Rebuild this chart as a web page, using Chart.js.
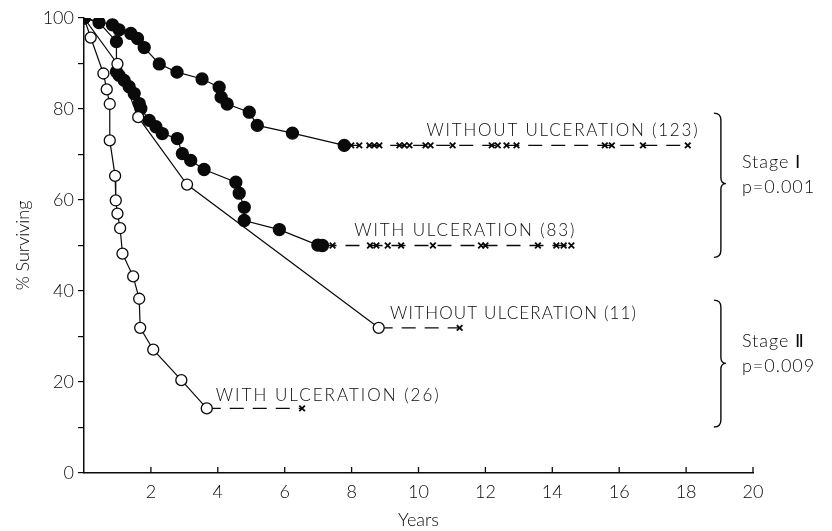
<!DOCTYPE html>
<html>
<head>
<meta charset="UTF-8">
<title>Survival by ulceration</title>
<script src="https://cdn.jsdelivr.net/npm/chart.js"></script>
<style>
  html, body { margin: 0; padding: 0; background: #fff; }
  #wrap { width: 832px; height: 531px; }
</style>
</head>
<body>
<div id="wrap"><canvas id="survChart"></canvas></div>
<script>
  // Stage I, without ulceration (123) - filled dots
  const s1NoUlcYears = [0, 0.85, 1.05, 1.40, 1.60, 1.80, 2.25, 2.78, 3.53, 4.04, 4.10, 4.28, 4.94, 5.18, 6.23, 7.78];
  const s1NoUlcPct   = [100, 98.5, 97.4, 96.6, 95.5, 93.5, 89.9, 88.1, 86.6, 84.8, 82.6, 81.1, 79.3, 76.4, 74.7, 72.0];
  const s1NoUlcCensored = [7.99, 8.23, 8.53, 8.68, 8.83, 9.43, 9.58, 9.73, 10.21, 10.36, 11.02, 12.19, 12.37, 12.63, 12.93, 15.57, 15.78, 16.71, 18.05];

  // Stage I, with ulceration (83) - filled dots
  const s1UlcYears = [0, 0.45, 0.97, 0.97, 1.05, 1.20, 1.35, 1.50, 1.65, 1.70, 1.95, 2.15, 2.34, 2.79, 2.94, 3.19, 3.59, 4.54, 4.64, 4.79, 4.79, 5.84, 6.99, 7.13];
  const s1UlcPct   = [100, 99.0, 94.8, 88.2, 87.4, 86.3, 84.9, 83.4, 81.2, 80.1, 77.5, 76.1, 74.6, 73.5, 70.2, 68.7, 66.7, 63.9, 61.5, 58.4, 55.5, 53.5, 50.1, 50.0];
  const s1UlcCensored = [7.43, 8.55, 8.74, 9.08, 9.48, 10.43, 11.87, 12.00, 13.57, 14.12, 14.34, 14.57];

  // Stage II, without ulceration (11) - open circles
  const s2NoUlcYears = [0, 1.00, 1.62, 3.08, 8.81];
  const s2NoUlcPct   = [100, 89.9, 78.2, 63.4, 31.9];
  const s2NoUlcCensored = [11.23];

  // Stage II, with ulceration (26) - open circles
  const s2UlcYears = [0, 0.20, 0.58, 0.68, 0.77, 0.77, 0.93, 0.95, 1.00, 1.08, 1.15, 1.47, 1.65, 1.68, 2.07, 2.91, 3.67];
  const s2UlcPct   = [100, 95.7, 87.8, 84.3, 81.1, 73.1, 65.3, 59.9, 57.0, 53.8, 48.2, 43.2, 38.3, 31.9, 27.1, 20.4, 14.2];
  const s2UlcCensored = [6.52];

  // curve labels (left edge in years, baseline in %)
  const curveLabels = [
    { text: "WITHOUT ULCERATION (123)", x: 10.24, y: 74.0, width: 271 },
    { text: "WITH ULCERATION (83)", x: 8.08, y: 52.0, width: 220 },
    { text: "WITHOUT ULCERATION (11)", x: 9.15, y: 33.8, width: 246 },
    { text: "WITH ULCERATION (26)", x: 3.94, y: 15.8, width: 223 }
  ];

  // braces on the right with stage text
  const braces = [
    { x: 19.04, top: 79.1, bottom: 47.4, tip: 63.6, line1: "Stage \u2160", line2: "p=0.001" },
    { x: 19.04, top: 38.0, bottom: 10.1, tip: 24.1, line1: "Stage \u2161", line2: "p=0.009" }
  ];

  const ink = "#0a0a0a";
  const fontFamily = "Lato, 'Open Sans', sans-serif";
  const fontWeight = 300;

  function pts(xs, ys) {
    return xs.map((x, i) => ({ x: x, y: ys[i] }));
  }
  function censPts(lastX, lastY, xs) {
    return [{ x: lastX, y: lastY }].concat(xs.map(x => ({ x: x, y: lastY })));
  }

  function solidSet(xs, ys, filled, hideFirst) {
    return {
      data: pts(xs, ys),
      borderColor: ink,
      borderWidth: 1.2,
      backgroundColor: filled ? ink : "#fff",
      pointBackgroundColor: filled ? ink : "#fff",
      pointBorderColor: ink,
      pointBorderWidth: 1.3,
      pointRadius: ctx => (hideFirst && ctx.dataIndex === 0) ? 0 : (filled ? 6 : 5.5),
      pointStyle: "circle",
      tension: 0,
      fill: false
    };
  }
  function censSet(xs, ys, cens) {
    return {
      data: censPts(xs[xs.length - 1], ys[ys.length - 1], cens),
      borderColor: ink,
      borderWidth: 1.3,
      borderDash: [14, 9],
      pointStyle: "crossRot",
      pointBorderColor: ink,
      pointBorderWidth: 1.8,
      pointRadius: ctx => ctx.dataIndex === 0 ? 0 : 4,
      fill: false
    };
  }

  // x-axis ticks point up into the plot
  const innerTicks = {
    id: "innerTicks",
    afterDraw(chart) {
      const { ctx, chartArea: a } = chart;
      const xs = chart.scales.x;
      ctx.save();
      ctx.strokeStyle = ink;
      ctx.lineWidth = 1.3;
      xs.ticks.forEach(t => {
        if (t.value === 0) return;
        const px = xs.getPixelForValue(t.value);
        ctx.beginPath();
        ctx.moveTo(px, a.bottom);
        ctx.lineTo(px, a.bottom - 6);
        ctx.stroke();
      });
      ctx.restore();
    }
  };

  // text labels and braces
  const annotations = {
    id: "annotations",
    afterDraw(chart) {
      const { ctx } = chart;
      const xs = chart.scales.x, ys = chart.scales.y;
      ctx.save();
      ctx.fillStyle = ink;
      ctx.textBaseline = "alphabetic";
      ctx.textAlign = "left";

      ctx.font = fontWeight + " 17px " + fontFamily;
      curveLabels.forEach(l => {
        ctx.letterSpacing = "0px";
        const w = ctx.measureText(l.text).width;
        const sp = (l.width - w) / (l.text.length - 1);
        ctx.letterSpacing = sp.toFixed(2) + "px";
        ctx.fillText(l.text, xs.getPixelForValue(l.x), ys.getPixelForValue(l.y));
      });

      braces.forEach(b => {
        const x = xs.getPixelForValue(b.x);
        const top = ys.getPixelForValue(b.top);
        const bot = ys.getPixelForValue(b.bottom);
        const tip = ys.getPixelForValue(b.tip);
        ctx.strokeStyle = ink;
        ctx.lineWidth = 1.4;
        ctx.beginPath();
        ctx.moveTo(x - 7, top);
        ctx.quadraticCurveTo(x, top, x, top + 7);
        ctx.lineTo(x, tip - 6);
        ctx.quadraticCurveTo(x, tip, x + 5, tip);
        ctx.quadraticCurveTo(x, tip, x, tip + 6);
        ctx.lineTo(x, bot - 7);
        ctx.quadraticCurveTo(x, bot, x - 7, bot);
        ctx.stroke();

        ctx.font = fontWeight + " 18px " + fontFamily;
        ctx.letterSpacing = "1px";
        ctx.fillText(b.line1, x + 21, tip - 16);
        ctx.fillText(b.line2, x + 21, tip + 9);
      });
      ctx.restore();
    }
  };

  new Chart(document.getElementById("survChart"), {
    type: "line",
    data: {
      datasets: [
        solidSet(s2UlcYears, s2UlcPct, false, true),
        censSet(s2UlcYears, s2UlcPct, s2UlcCensored),
        solidSet(s2NoUlcYears, s2NoUlcPct, false, true),
        censSet(s2NoUlcYears, s2NoUlcPct, s2NoUlcCensored),
        solidSet(s1UlcYears, s1UlcPct, true, false),
        censSet(s1UlcYears, s1UlcPct, s1UlcCensored),
        solidSet(s1NoUlcYears, s1NoUlcPct, true, false),
        censSet(s1NoUlcYears, s1NoUlcPct, s1NoUlcCensored)
      ]
    },
    options: {
      responsive: true,
      maintainAspectRatio: false,
      animation: false,
      layout: { padding: { left: 8, right: 79, top: 18, bottom: 0 } },
      plugins: {
        legend: { display: false },
        tooltip: { enabled: false }
      },
      scales: {
        x: {
          type: "linear",
          min: 0,
          max: 20,
          grid: { display: false },
          border: { display: true, color: ink, width: 1.5 },
          ticks: {
            stepSize: 2,
            autoSkip: false,
            padding: 0,
            color: ink,
            font: { family: fontFamily, size: 18, weight: fontWeight },
            callback: v => v === 0 ? "" : v
          },
          title: {
            display: true,
            text: "Years",
            color: ink,
            padding: { top: 4, bottom: 0 },
            font: { family: fontFamily, size: 18, weight: fontWeight }
          },
          afterFit: s => { s.height = 58; }
        },
        y: {
          min: 0,
          max: 100,
          grid: { drawOnChartArea: false, drawTicks: true, tickLength: 6, color: ink, lineWidth: 1.2 },
          border: { display: true, color: ink, width: 1.5 },
          ticks: {
            stepSize: 10,
            autoSkip: false,
            padding: 4,
            color: ink,
            font: { family: fontFamily, size: 18, weight: fontWeight },
            callback: v => v % 20 === 0 ? v : ""
          },
          title: {
            display: true,
            text: "% Surviving",
            color: ink,
            font: { family: fontFamily, size: 18, weight: fontWeight }
          },
          afterFit: s => { s.width = 76; }
        }
      }
    },
    plugins: [innerTicks, annotations]
  });
</script>
</body>
</html>
